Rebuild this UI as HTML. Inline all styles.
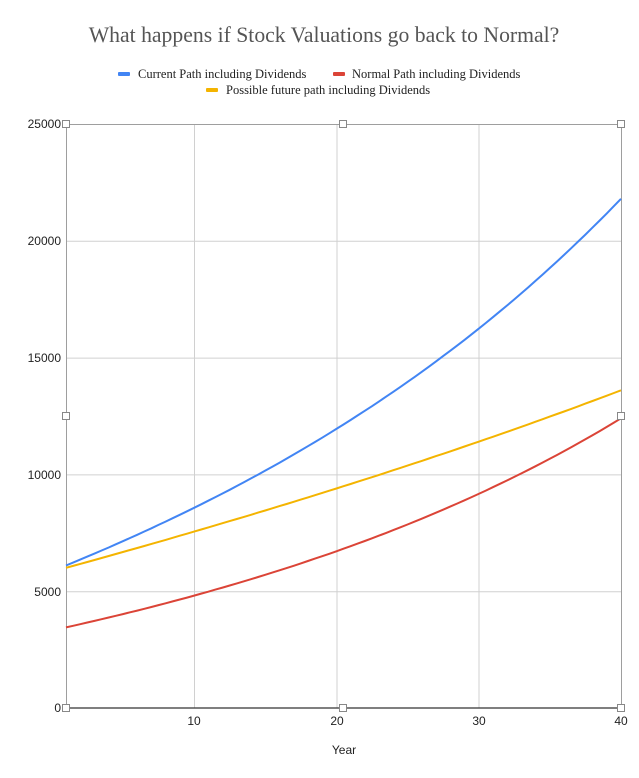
<!DOCTYPE html>
<html><head><meta charset="utf-8"><style>
html,body{margin:0;padding:0;background:#fff;width:639px;height:778px;overflow:hidden}
</style></head><body>
<svg id="s" width="639" height="778" xmlns="http://www.w3.org/2000/svg">
<rect width="639" height="778" fill="#fff"/>
<text x="324" y="42" text-anchor="middle" font-family="Liberation Serif, serif" font-size="21.7" fill="#555">What happens if Stock Valuations go back to Normal?</text>
<g font-family="Liberation Serif, serif" font-size="12.5" fill="#222">
<rect x="118" y="72" width="12" height="4" rx="1" fill="#4285f4"/><text x="138" y="78">Current Path including Dividends</text>
<rect x="333" y="72" width="12" height="4" rx="1" fill="#db4437"/><text x="352" y="78">Normal Path including Dividends</text>
<rect x="206" y="88" width="12" height="4" rx="1" fill="#f4b400"/><text x="226" y="94">Possible future path including Dividends</text>
</g>
<g stroke="#d0d0d0" stroke-width="1">
<line x1="66" y1="241.3" x2="621" y2="241.3"/><line x1="66" y1="358.1" x2="621" y2="358.1"/>
<line x1="66" y1="474.9" x2="621" y2="474.9"/><line x1="66" y1="591.7" x2="621" y2="591.7"/>
<line x1="194.5" y1="124" x2="194.5" y2="708"/><line x1="337" y1="124" x2="337" y2="708"/><line x1="479" y1="124" x2="479" y2="708"/>
</g>
<g stroke="#9e9e9e" stroke-width="1" fill="none">
<line x1="66" y1="124.5" x2="621" y2="124.5"/><line x1="66.5" y1="124" x2="66.5" y2="708"/><line x1="621.5" y1="124" x2="621.5" y2="708"/>
</g>
<line x1="66" y1="708" x2="621" y2="708" stroke="#333" stroke-width="1.2"/>
<g font-family="Liberation Sans, sans-serif" font-size="12" fill="#222" text-anchor="end">
<text x="61" y="128">25000</text><text x="61" y="245">20000</text><text x="61" y="362">15000</text>
<text x="61" y="479">10000</text><text x="61" y="596">5000</text><text x="61" y="712">0</text>
</g>
<g font-family="Liberation Sans, sans-serif" font-size="12" fill="#222" text-anchor="middle">
<text x="194" y="725">10</text><text x="337" y="725">20</text><text x="479" y="725">30</text><text x="621" y="725">40</text>
<text x="344" y="754">Year</text>
</g>
<path id="b" fill="none" stroke="#4285f4" stroke-width="2"/>
<path id="r" fill="none" stroke="#db4437" stroke-width="2"/>
<path id="y" fill="none" stroke="#f4b400" stroke-width="2"/>
<g fill="#fff" stroke="#888" stroke-width="1">
<rect x="62.5" y="120.5" width="7" height="7"/><rect x="339.5" y="120.5" width="7" height="7"/><rect x="617.5" y="120.5" width="7" height="7"/>
<rect x="62.5" y="412.5" width="7" height="7"/><rect x="617.5" y="412.5" width="7" height="7"/>
<rect x="62.5" y="704.5" width="7" height="7"/><rect x="339.5" y="704.5" width="7" height="7"/><rect x="617.5" y="704.5" width="7" height="7"/>
</g>
<script>
function mk(id,a,b,w){var r=Math.log(b/a)/39,d="";for(var t=1;t<=40;t+=0.5){var f=(t-1)/39;var v=w*a*Math.exp(r*(t-1))+(1-w)*(a+(b-a)*f);var x=66+(t-1)*555/39,y=708-v*584/25000;d+=(t==1?"M":"L")+x.toFixed(1)+","+y.toFixed(1);}document.getElementById(id).setAttribute("d",d);}
mk("b",6100,21800,0.75);mk("r",3450,12400,0.8);mk("y",6000,13600,0.4);
</script>
</svg>
</body></html>
